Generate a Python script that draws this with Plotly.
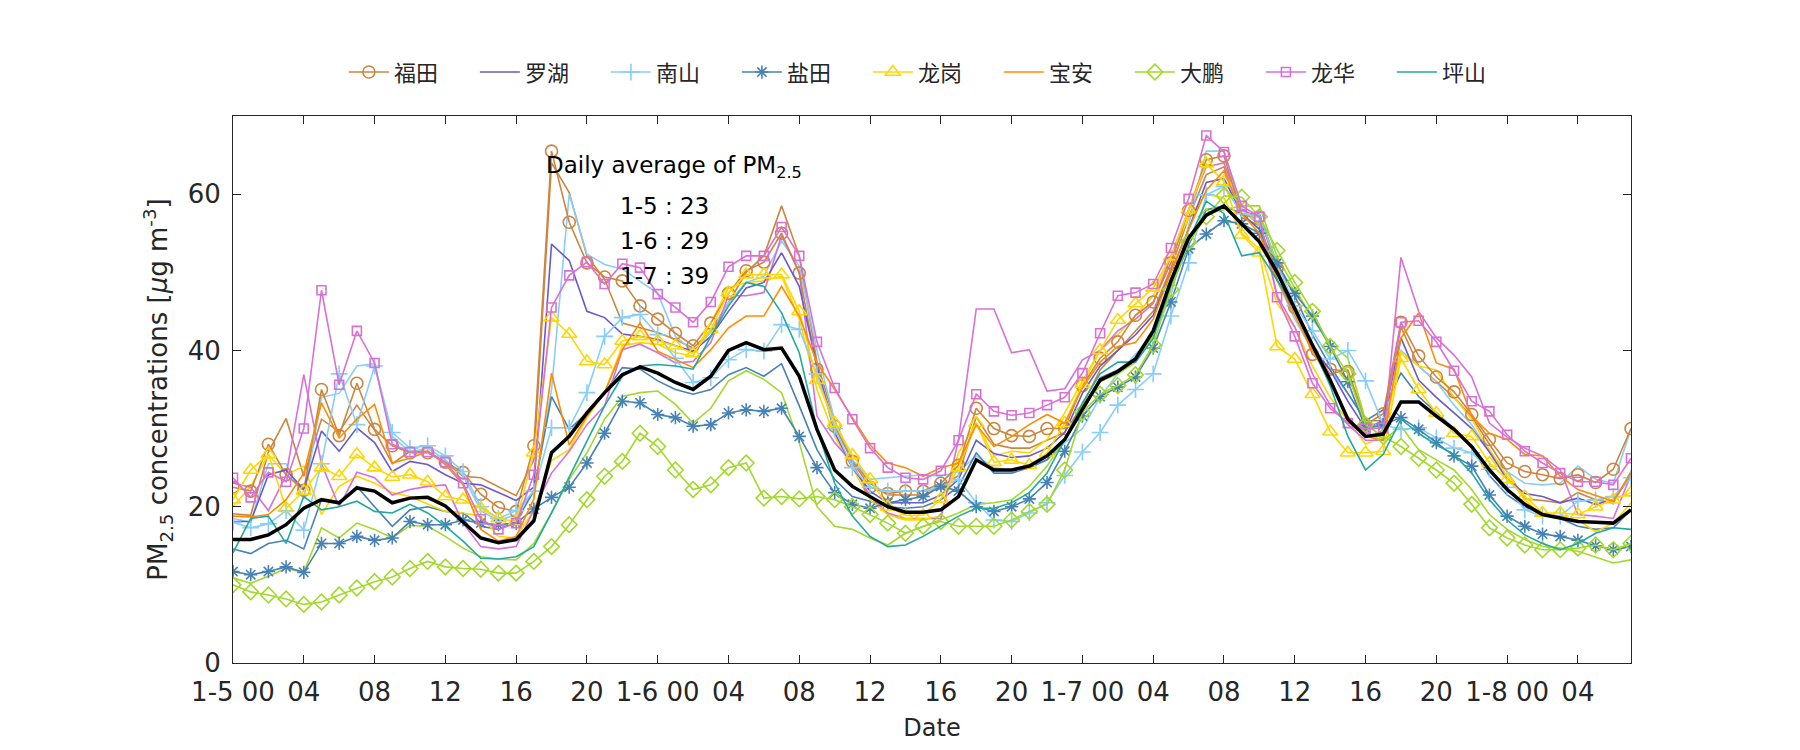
import plotly.graph_objects as go

hours = list(range(80))

tick_vals = list(range(0, 80, 4))
tick_text = ["1-5 00", "04", "08", "12", "16", "20", "1-6 00", "04", "08", "12",
             "16", "20", "1-7 00", "04", "08", "12", "16", "20", "1-8 00", "04"]

futian = [22.5, 22.0, 28.0, 24.1, 22.1, 35.0, 29.1, 35.8, 29.9, 27.8, 26.9, 26.9, 25.7, 24.4, 21.6, 19.9, 19.4,
          27.8, 65.5, 56.4, 51.2, 49.4, 48.9, 45.7, 44.0, 42.2, 40.6, 43.5, 47.3, 50.2, 51.3, 55.0, 49.9,
          37.6, 30.3, 25.8, 22.5, 21.7, 22.0, 22.0, 23.0, 25.3, 32.6, 30.0, 29.1, 29.0, 30.0, 30.0, 35.5,
          39.0, 41.1, 44.5, 46.2, 51.2, 57.9, 64.4, 64.9, 57.3, 57.1, 50.5, 45.5, 39.5, 37.6, 37.3, 30.5,
          31.9, 43.6, 39.3, 36.6, 34.7, 31.8, 28.6, 25.6, 24.5, 24.1, 23.6, 24.1, 23.1, 24.8, 30.0]
futian_b = [19.1, 18.9, 27.0, 31.3, 23.9, 31.2, 29.6, 33.0, 29.8, 25.5, 27.1, 27.1, 25.7, 23.9, 23.7, 22.5, 21.4,
            26.0, 64.0, 60.2, 52.1, 49.1, 43.5, 42.9, 42.3, 41.4, 40.3, 42.5, 46.1, 50.0, 52.1, 58.5, 52.1,
            38.5, 31.0, 26.0, 23.0, 21.5, 21.5, 21.5, 22.5, 24.0, 31.5, 28.0, 27.5, 27.5, 28.5, 29.5, 33.0,
            37.5, 40.0, 42.5, 45.0, 50.5, 57.0, 62.5, 63.5, 57.0, 56.0, 50.0, 45.0, 40.0, 37.0, 37.5, 31.0,
            31.0, 43.0, 38.0, 36.0, 34.0, 31.5, 28.0, 24.5, 21.0, 20.8, 20.5, 21.8, 20.9, 20.5, 24.5]
luohu = [18.1, 18.1, 24.1, 24.7, 22.2, 29.7, 27.1, 30.1, 28.2, 24.5, 25.8, 25.4, 24.1, 23.0, 22.8, 21.8, 20.8,
         22.5, 53.6, 51.5, 45.0, 44.2, 42.1, 41.8, 41.4, 40.6, 39.9, 41.8, 45.0, 48.0, 48.7, 52.5, 48.2,
         38.0, 29.5, 25.0, 22.0, 20.5, 20.5, 20.5, 21.5, 23.5, 28.5, 26.8, 26.3, 26.5, 27.5, 29.5, 34.5,
         38.0, 40.0, 42.0, 44.5, 50.0, 55.5, 61.5, 62.0, 57.5, 55.5, 49.0, 45.0, 40.5, 37.5, 33.5, 30.0,
         31.0, 41.6, 36.2, 34.0, 32.0, 30.0, 27.0, 23.5, 21.7, 21.3, 20.5, 21.1, 20.3, 20.9, 23.9]
nanshan = [18.0, 17.3, 17.8, 19.5, 17.0, 25.5, 37.0, 30.5, 38.0, 29.5, 27.5, 27.8, 26.5, 24.5, 20.0, 18.5, 19.5,
           22.0, 30.1, 30.1, 34.6, 41.8, 44.2, 44.6, 42.0, 39.0, 35.9, 36.5, 38.8, 40.1, 39.9, 43.3, 42.7,
           37.0, 30.0, 25.0, 22.5, 22.0, 22.0, 22.0, 22.5, 23.5, 20.5, 18.3, 18.1, 19.2, 20.5, 24.0, 27.0,
           29.5, 33.0, 35.0, 37.0, 44.4, 51.2, 59.9, 61.0, 57.5, 57.1, 51.2, 45.7, 42.5, 38.9, 40.0, 36.1,
           30.5, 29.9, 30.1, 28.8, 27.5, 26.9, 24.8, 22.5, 19.6, 18.8, 18.8, 20.7, 20.9, 21.3, 23.7]
nanshan_b = [18.5, 18.0, 25.5, 25.5, 21.0, 34.0, 34.5, 38.0, 38.3, 29.0, 27.0, 27.5, 26.0, 24.0, 19.5, 18.2, 19.0,
             22.0, 35.0, 60.0, 52.3, 51.0, 50.4, 48.9, 47.3, 41.8, 39.9, 42.3, 46.1, 48.7, 49.5, 54.0, 50.8,
             40.0, 31.0, 26.0, 23.5, 23.7, 23.9, 24.1, 23.9, 24.5, 26.5, 25.0, 24.7, 25.0, 26.0, 28.2, 30.0,
             34.0, 37.0, 39.5, 42.0, 47.0, 56.0, 65.5, 65.5, 58.0, 56.0, 49.0, 44.0, 40.0, 37.5, 34.5, 31.0,
             30.0, 40.0, 38.0, 36.0, 33.0, 30.5, 27.0, 24.5, 23.0, 22.8, 23.0, 25.2, 23.5, 23.0, 30.0]
yantian = [11.7, 11.3, 11.7, 12.3, 11.6, 15.3, 15.3, 16.2, 15.7, 16.0, 18.1, 17.7, 17.7, 18.3, 17.9, 17.7, 17.9,
           19.7, 21.2, 22.5, 25.6, 29.4, 33.5, 33.3, 31.8, 31.4, 30.3, 30.5, 32.0, 32.4, 32.2, 32.6, 29.0,
           25.0, 21.8, 20.3, 19.8, 20.5, 20.9, 21.3, 22.6, 22.0, 20.0, 19.4, 20.0, 21.0, 23.1, 27.1, 31.6,
           34.1, 35.3, 36.6, 40.3, 46.2, 53.0, 54.9, 56.6, 56.2, 55.0, 51.2, 47.3, 44.4, 40.5, 36.0, 30.0,
           30.5, 31.4, 29.9, 28.2, 26.5, 25.2, 21.5, 18.8, 17.5, 16.5, 16.2, 15.7, 15.0, 14.5, 14.9]
yantian_b = [14.6, 14.0, 15.3, 15.7, 14.6, 20.9, 20.5, 22.6, 20.0, 17.5, 19.6, 20.0, 19.4, 19.2, 17.5, 17.1, 18.1,
             22.0, 34.1, 29.9, 32.0, 34.6, 37.8, 37.6, 36.1, 35.0, 34.4, 35.0, 36.9, 37.8, 36.7, 38.3, 32.9,
             27.3, 23.5, 21.3, 20.7, 20.0, 19.8, 20.0, 20.9, 22.6, 26.9, 24.3, 24.3, 25.0, 26.0, 28.6, 32.0,
             36.5, 37.5, 39.0, 42.0, 48.0, 53.5, 58.0, 58.5, 57.5, 57.5, 51.0, 47.0, 42.0, 38.0, 34.5, 31.0,
             32.4, 37.1, 34.1, 32.0, 30.0, 27.5, 24.0, 21.5, 20.0, 19.0, 18.5, 17.5, 17.1, 17.3, 19.6]
longgang = [20.9, 24.7, 26.7, 19.8, 22.0, 25.0, 23.9, 26.7, 25.0, 23.8, 24.1, 23.2, 21.3, 20.9, 19.8, 18.5, 18.1,
            26.9, 44.2, 42.1, 38.6, 38.2, 41.2, 41.8, 41.2, 40.6, 39.6, 42.7, 47.4, 49.7, 49.7, 49.7, 45.0,
            36.2, 30.7, 26.6, 23.5, 20.0, 18.9, 18.9, 21.0, 25.0, 30.7, 25.7, 26.0, 25.3, 26.9, 30.7, 35.7,
            40.0, 43.9, 46.0, 48.0, 52.0, 58.0, 63.9, 61.6, 54.8, 52.5, 40.5, 38.9, 34.4, 29.6, 26.9, 26.9,
            27.1, 39.0, 35.0, 32.0, 29.4, 29.0, 25.6, 23.5, 21.3, 19.2, 19.2, 19.0, 20.0, 20.9, 21.8]
longgang_b = [20.0, 22.6, 26.7, 24.1, 25.2, 19.0, 22.6, 23.9, 23.0, 21.8, 21.3, 20.3, 19.4, 19.2, 18.8, 16.2, 16.0,
              19.6, 25.9, 27.3, 31.4, 34.6, 40.6, 41.0, 40.8, 39.7, 39.3, 43.5, 48.0, 48.7, 48.9, 49.5, 44.0,
              35.0, 29.0, 25.0, 20.9, 19.0, 18.3, 18.3, 18.8, 26.9, 30.7, 26.5, 27.1, 26.9, 28.6, 32.0, 36.1,
              40.0, 42.0, 44.5, 47.0, 52.0, 57.0, 60.0, 59.5, 55.0, 53.0, 46.0, 43.0, 38.0, 34.0, 31.0, 28.0,
              29.0, 39.7, 38.0, 37.5, 34.0, 31.2, 27.3, 23.9, 20.9, 18.8, 18.5, 18.3, 16.8, 17.9, 20.5]
baoan = [18.8, 18.7, 19.0, 20.9, 24.3, 33.3, 28.8, 31.2, 33.1, 25.6, 26.2, 27.1, 25.4, 22.8, 17.1, 15.6, 16.2,
         21.0, 37.1, 27.9, 31.6, 34.6, 40.1, 43.5, 39.9, 38.8, 37.8, 40.1, 42.9, 44.4, 44.4, 48.2, 44.4,
         38.4, 35.0, 31.4, 27.9, 25.6, 25.0, 23.9, 25.0, 25.6, 30.5, 27.7, 29.0, 30.5, 31.8, 30.7, 35.2,
         38.5, 40.5, 41.0, 44.0, 50.0, 55.5, 60.5, 63.0, 57.5, 55.0, 49.0, 44.5, 40.0, 36.0, 31.5, 29.0,
         28.5, 41.6, 44.8, 38.4, 37.6, 31.6, 29.4, 28.6, 26.7, 26.5, 23.9, 22.2, 21.5, 20.7, 24.3]
dapeng = [10.0, 9.1, 8.7, 8.2, 7.5, 7.8, 8.7, 9.6, 10.4, 11.0, 12.1, 13.0, 12.3, 12.1, 12.0, 11.5, 11.5,
          13.0, 14.9, 17.7, 20.9, 23.9, 25.8, 29.4, 27.7, 24.7, 22.2, 22.8, 25.0, 25.6, 21.1, 21.3, 21.0,
          21.3, 20.9, 20.0, 19.0, 17.9, 16.6, 17.5, 18.1, 17.5, 17.5, 17.5, 18.3, 19.4, 20.3, 24.7, 32.1,
          34.4, 35.5, 36.9, 40.7, 47.8, 53.9, 57.1, 59.8, 59.6, 57.1, 52.8, 48.7, 45.0, 40.5, 37.0, 30.5,
          29.0, 27.7, 26.2, 24.7, 23.0, 20.3, 17.3, 16.0, 15.1, 14.5, 14.5, 14.7, 15.1, 14.5, 15.3]
dapeng_b = [10.9, 10.2, 11.1, 12.1, 11.6, 17.3, 16.0, 17.9, 17.1, 16.0, 17.6, 17.5, 16.2, 14.7, 13.6, 13.3, 13.2,
            15.3, 19.2, 23.5, 26.9, 31.2, 34.1, 34.6, 34.8, 33.1, 30.7, 32.6, 36.1, 37.4, 36.3, 34.6, 28.2,
            20.0, 17.5, 17.1, 16.0, 15.1, 16.6, 17.5, 18.3, 19.2, 20.3, 20.5, 20.9, 22.6, 25.2, 28.6, 32.9,
            36.0, 37.0, 38.5, 42.0, 49.0, 54.0, 57.5, 58.0, 58.5, 58.5, 52.0, 48.0, 44.0, 41.0, 39.0, 31.0,
            28.5, 30.3, 27.3, 26.0, 24.7, 22.2, 19.0, 17.1, 15.8, 14.9, 14.7, 14.3, 13.6, 12.8, 13.2]
longhua = [23.7, 21.2, 24.4, 23.2, 30.0, 47.7, 35.6, 42.5, 38.4, 28.0, 27.0, 27.0, 25.7, 23.0, 18.4, 17.1, 17.9,
           24.1, 45.5, 49.6, 51.3, 48.5, 51.1, 50.6, 47.2, 45.5, 43.6, 46.2, 50.7, 52.1, 52.1, 55.8, 52.1,
           41.1, 35.2, 31.2, 27.5, 25.0, 23.7, 23.5, 24.6, 28.5, 34.4, 32.2, 31.7, 32.0, 33.0, 34.0, 37.1,
           42.2, 47.0, 47.4, 48.5, 53.1, 59.4, 67.5, 65.4, 58.5, 57.1, 46.8, 41.8, 35.8, 32.6, 30.7, 30.0,
           30.1, 43.6, 43.8, 41.1, 37.4, 33.5, 32.2, 29.2, 27.1, 25.6, 24.3, 23.2, 23.2, 22.8, 26.2]
longhua_b = [23.0, 22.5, 19.5, 24.0, 36.9, 25.5, 20.0, 24.4, 23.7, 21.5, 22.2, 22.6, 22.8, 17.9, 14.9, 14.6, 14.9,
             19.6, 24.3, 27.1, 30.5, 32.9, 40.1, 40.8, 39.7, 38.4, 38.6, 41.0, 47.0, 47.0, 47.4, 54.7, 50.0,
             31.6, 28.2, 25.6, 21.3, 19.2, 18.5, 18.5, 18.5, 28.6, 45.3, 45.3, 39.7, 40.1, 34.8, 35.1, 38.8,
             40.0, 42.5, 44.0, 46.0, 52.0, 58.0, 63.5, 64.0, 58.0, 57.0, 47.0, 43.0, 37.0, 33.0, 30.5, 28.5,
             28.5, 51.9, 45.0, 41.6, 39.4, 36.6, 30.7, 28.9, 27.5, 26.5, 24.7, 19.0, 18.8, 18.5, 24.1]
pingshan = [14.1, 18.5, 18.8, 15.3, 21.3, 19.6, 20.0, 20.7, 19.4, 19.2, 20.3, 19.2, 17.5, 15.6, 13.4, 13.3, 13.6,
            14.9, 19.2, 23.9, 28.4, 32.9, 36.7, 38.0, 38.2, 38.0, 37.6, 41.8, 45.7, 48.7, 48.2, 44.8, 39.7,
            30.0, 23.0, 18.8, 16.2, 14.9, 15.1, 16.2, 17.5, 18.8, 19.8, 19.8, 20.5, 21.8, 24.3, 28.6, 33.3,
            37.0, 38.5, 38.5, 41.5, 48.5, 54.0, 59.1, 57.5, 52.1, 52.5, 49.0, 45.5, 40.5, 35.5, 29.0, 24.7,
            26.7, 31.2, 29.4, 27.9, 26.7, 24.3, 20.9, 18.3, 16.4, 15.3, 14.5, 15.3, 16.6, 17.3, 17.1]
average = [15.8, 15.8, 16.4, 17.7, 19.8, 20.9, 20.5, 22.4, 22.0, 20.5, 21.1, 21.2, 20.1, 18.1, 16.0, 15.4, 15.8,
           18.2, 26.9, 29.0, 32.0, 34.6, 36.9, 37.9, 37.1, 35.9, 35.0, 36.7, 40.0, 41.0, 40.1, 40.3, 36.7,
           29.9, 24.7, 22.6, 21.3, 20.0, 19.3, 19.3, 19.6, 21.3, 26.0, 24.7, 24.7, 25.2, 26.5, 28.6, 32.5,
           36.2, 37.3, 38.9, 42.5, 48.9, 54.4, 57.3, 58.5, 56.2, 53.9, 50.0, 45.3, 40.7, 36.2, 31.2, 29.0,
           29.3, 33.4, 33.4, 31.6, 29.9, 27.7, 24.7, 22.2, 20.3, 19.0, 18.5, 18.1, 18.0, 17.9, 19.6]

daily_labels = ["1-5 : 23", "1-6 : 29", "1-7 : 39"]

FONT = "DejaVu Sans"
CJK = "Noto Sans CJK SC"

# (name, values, color, marker symbol or None, size)
main_series = [
    ("福田", futian, "#CD853F", "circle-open", 12),
    ("罗湖", luohu, "#6A5ACD", None, 0),
    ("南山", nanshan, "#87CEFA", "cross-thin-open", 12),
    ("盐田", yantian, "#4682B4", "asterisk-open", 11),
    ("龙岗", longgang, "#FFD700", "triangle-up-open", 13),
    ("宝安", baoan, "#FF8C00", None, 0),
    ("大鹏", dapeng, "#A2D92B", "diamond-open", 12),
    ("龙华", longhua, "#DA70D6", "square-open", 9),
    ("坪山", pingshan, "#20A99F", None, 0),
]
twin_series = [
    (futian_b, "#CD853F"),
    (nanshan_b, "#87CEFA"),
    (yantian_b, "#4682B4"),
    (longgang_b, "#FFD700"),
    (dapeng_b, "#A2D92B"),
    (longhua_b, "#DA70D6"),
]

fig = go.Figure()

for vals, col in twin_series:
    fig.add_trace(go.Scatter(x=hours, y=vals, mode="lines", showlegend=False,
                             line=dict(color=col, width=1.6), hoverinfo="skip"))

for name, vals, col, sym, size in main_series:
    if sym:
        fig.add_trace(go.Scatter(x=hours, y=vals, mode="lines+markers", name=name,
                                 line=dict(color=col, width=1.6),
                                 marker=dict(symbol=sym, size=size, color=col,
                                             line=dict(color=col, width=1.6))))
    else:
        fig.add_trace(go.Scatter(x=hours, y=vals, mode="lines", name=name,
                                 line=dict(color=col, width=1.6)))

fig.add_trace(go.Scatter(x=hours, y=average, mode="lines", showlegend=False,
                         line=dict(color="black", width=3.5)))

# annotation block
fig.add_annotation(x=24.9, y=63.5, text="Daily average of PM<sub>2.5</sub>", showarrow=False,
                   font=dict(family=FONT, size=23, color="black"), xanchor="center", yanchor="middle")
for i, lab in enumerate(daily_labels):
    fig.add_annotation(x=24.4, y=58.5 - 4.5 * i, text=lab, showarrow=False,
                       font=dict(family=FONT, size=23, color="black"), xanchor="center", yanchor="middle")

axis_common = dict(showline=True, linecolor="#262626", linewidth=1, mirror="allticks",
                   ticks="inside", ticklen=8, tickcolor="#262626", tickwidth=1,
                   showgrid=False, zeroline=False,
                   tickfont=dict(family=FONT, size=26, color="#262626"))

fig.update_xaxes(range=[0, 79], tickmode="array", tickvals=tick_vals, ticktext=tick_text,
                 ticklabelstandoff=6,
                 title=dict(text="Date", font=dict(family=FONT, size=24, color="#262626"), standoff=12),
                 **axis_common)
fig.update_yaxes(range=[0, 70], tickmode="array", tickvals=[0, 20, 40, 60],
                 ticklabelstandoff=6,
                 title=dict(text="PM<sub>2.5</sub> concentrations [<i>μ</i>g m<sup>-3</sup>]",
                            font=dict(family=FONT, size=26, color="#262626"), standoff=12),
                 **axis_common)

fig.update_layout(
    width=1800, height=750,
    margin=dict(l=233, r=169, t=116, b=87),
    paper_bgcolor="white", plot_bgcolor="white",
    legend=dict(orientation="h", x=0.501, xanchor="center", y=1.08, yanchor="middle",
                font=dict(family=CJK, size=22, color="#262626"),
                entrywidth=76, entrywidthmode="pixels", itemwidth=40,
                bgcolor="rgba(0,0,0,0)"),
    font=dict(family=FONT),
)

fig.write_html("out.html")
